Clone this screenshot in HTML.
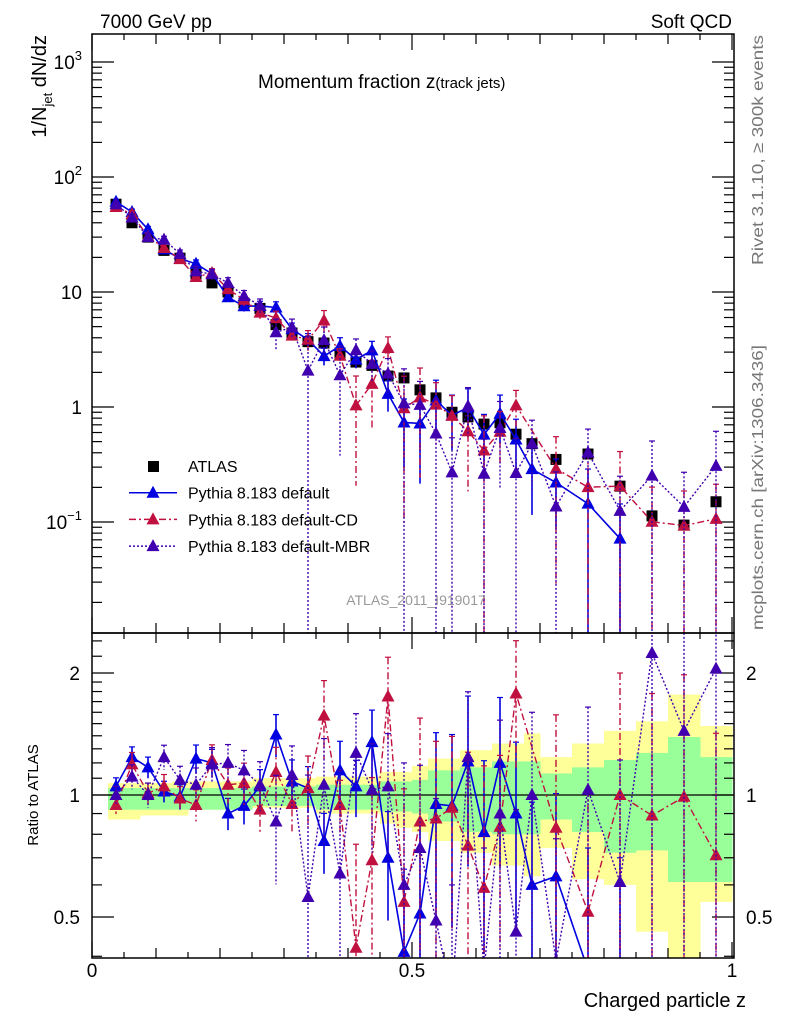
<!DOCTYPE html>
<html><head><meta charset="utf-8"><style>
html,body{margin:0;padding:0;background:#fff;overflow:hidden;width:786px;height:1024px;}
svg{display:block;font-family:"Liberation Sans",sans-serif;}
</style></head><body>
<svg id="chart" width="786" height="1024" viewBox="0 0 786 1024" xmlns="http://www.w3.org/2000/svg" overflow="hidden">
<defs>
<clipPath id="cm"><rect x="92" y="34" width="642" height="599"/></clipPath>
<clipPath id="cr"><rect x="92" y="633" width="642" height="325"/></clipPath>
</defs>
<g id="bands" clip-path="url(#cr)"></g>
<g id="ticks"></g>
<line x1="92" x2="734" y1="795" y2="795" stroke="#000" stroke-width="1.2"/>
<g id="mainmarks" clip-path="url(#cm)"></g>
<g id="ratiomarks" clip-path="url(#cr)"></g>
<rect x="92" y="34" width="642" height="599" fill="none" stroke="#000" stroke-width="1.5"/>
<rect x="92" y="633" width="642" height="325" fill="none" stroke="#000" stroke-width="1.5"/>
<text x="100" y="28" font-size="19">7000 GeV pp</text>
<text x="732" y="28" font-size="19" text-anchor="end">Soft QCD</text>
<text x="258" y="88" font-size="19">Momentum fraction z<tspan font-size="15">(track jets)</tspan></text>
<text transform="translate(46,35) rotate(-90)" font-size="20" text-anchor="end">1/N<tspan font-size="13" dy="6">jet</tspan><tspan dy="-6"> dN/dz</tspan></text>
<text transform="translate(763,265) rotate(-90)" font-size="16" fill="#777" textLength="230" lengthAdjust="spacingAndGlyphs">Rivet 3.1.10, ≥ 300k events</text>
<text transform="translate(763,630) rotate(-90)" font-size="16" fill="#777" textLength="285" lengthAdjust="spacingAndGlyphs">mcplots.cern.ch [arXiv:1306.3436]</text>
<text x="416" y="605" font-size="14" fill="#999" text-anchor="middle">ATLAS_2011_I919017</text>
<text transform="translate(38,795) rotate(-90)" font-size="15" text-anchor="middle">Ratio to ATLAS</text>
<text x="746" y="1007" font-size="20" text-anchor="end">Charged particle z</text>
<g id="legend" font-size="16"></g>
<g id="labels" font-size="19"></g>
</svg>
<script>
const atlas=[58,40,30,23,19.7,14.3,12,10,8,7.2,5.2,4.4,3.7,3.6,2.95,2.46,2.3,1.86,1.79,1.41,1.2,0.9,0.82,0.71,0.73,0.58,0.48,0.35,0.39,0.205,0.113,0.094,0.15];
const blueRatio=[1.05,1.24,1.17,1.02,0.99,1.23,1.20,0.90,0.94,1.05,1.41,1.08,1.04,0.77,1.15,1.05,1.35,0.70,0.41,0.51,0.95,0.94,1.21,0.81,1.20,0.90,0.60,0.63,0.37,0.35,null,null,null];
const redRatio=[0.945,1.19,1.01,1.05,0.98,0.945,1.22,1.06,1.07,0.92,1.14,0.95,1.04,1.57,0.945,0.42,0.69,1.75,0.545,0.86,0.875,0.93,0.75,0.59,0.835,1.78,null,0.83,0.515,1.0,0.89,0.99,0.71];
const purpleRatio=[1.0,1.11,1.0,1.24,1.09,1.06,1.19,1.20,1.15,1.06,0.86,1.12,0.56,1.06,0.64,1.27,1.03,1.05,0.60,0.74,0.49,0.3,1.24,0.37,0.9,0.46,1.0,0.39,1.03,0.61,2.24,1.44,2.05];
const blueErr=[0.05,0.06,0.06,0.06,0.07,0.08,0.08,0.09,0.1,0.1,0.12,0.13,0.13,0.17,0.18,0.16,0.2,0.3,0.6,0.7,0.5,0.5,0.45,0.5,0.45,0.5,0.6,0.6,1,1,0,0,0];
const redErr=[0.05,0.07,0.06,0.07,0.07,0.09,0.09,0.1,0.12,0.12,0.15,0.15,0.2,0.22,0.15,0.8,0.6,0.25,0.9,0.8,0.55,0.5,0.7,1,0.5,0.35,0,0.9,1,1,1,1,1];
const purpleErr=[0.05,0.07,0.07,0.07,0.08,0.1,0.1,0.11,0.12,0.14,0.3,0.18,1,0.3,0.8,0.25,0.3,0.35,1,0.6,1,1,0.45,1,0.7,1,0.6,1,0.6,1,1,1,1];
const yUp=[1.07,1.07,1.07,1.07,1.08,1.08,1.08,1.08,1.08,1.10,1.10,1.10,1.10,1.11,1.11,1.11,1.11,1.14,1.14,1.18,1.23,1.23,1.29,1.29,1.34,1.34,1.42,1.24,1.34,1.44,1.52,1.77,1.48];
const yDn=[0.87,0.87,0.89,0.89,0.89,0.92,0.92,0.92,0.92,0.93,0.93,0.93,0.93,0.90,0.90,0.90,0.90,0.85,0.83,0.81,0.77,0.77,0.72,0.72,0.67,0.67,0.63,0.74,0.62,0.60,0.46,0.38,0.545];
const gUp=[1.04,1.04,1.04,1.04,1.04,1.04,1.04,1.04,1.04,1.05,1.05,1.05,1.05,1.06,1.06,1.06,1.06,1.08,1.08,1.09,1.15,1.15,1.17,1.17,1.21,1.21,1.21,1.13,1.17,1.22,1.27,1.39,1.24];
const gDn=[0.92,0.92,0.92,0.92,0.92,0.92,0.92,0.92,0.92,0.94,0.94,0.94,0.94,0.92,0.92,0.92,0.92,0.91,0.91,0.90,0.86,0.86,0.81,0.81,0.80,0.80,0.80,0.87,0.81,0.72,0.73,0.61,0.61];
const xTickLabels=["0","0.5","1"];
const yTickExp=[3,2,1,0,-1];
const ratioTickLabels=["2","1","0.5"];

const NS="http://www.w3.org/2000/svg";
function el(tag,attrs,parent,text){const e=document.createElementNS(NS,tag);for(const k in attrs)e.setAttribute(k,attrs[k]);if(text!==undefined)e.textContent=text;parent.appendChild(e);return e;}
const X=z=>92+640*z;
const Y=v=>407-115*Math.log10(v);
const R=r=>795-122*Math.log2(r);
function edges(k){if(k<27)return[0.025+0.025*k,0.05+0.025*k];const lo=0.7+0.05*(k-27);return[lo,lo+0.05];}
function center(k){const e=edges(k);return(e[0]+e[1])/2;}
const N=atlas.length;

const bg=document.getElementById('bands');
for(let k=0;k<N;k++){const e=edges(k);
 const a=el('rect',{x:X(e[0]),width:X(e[1])-X(e[0])+0.5,y:R(yUp[k]),height:Math.min(R(yDn[k]),960)-R(yUp[k]),fill:'#ffff99'},bg);
 
 }
for(let k=0;k<N;k++){const e=edges(k);
 const a=el('rect',{x:X(e[0]),width:X(e[1])-X(e[0])+0.5,y:R(gUp[k]),height:Math.min(R(gDn[k]),960)-R(gUp[k]),fill:'#99ff99'},bg);
 
 }

const tg=document.getElementById('ticks');
function tk(x1,y1,x2,y2){el('line',{x1,y1,x2,y2,stroke:'#000','stroke-width':1.2},tg);}
for(let i=0;i<=20;i++){const z=i*0.05,x=X(z);const L=(i%10===0)?16:(i%2===0?10:6);
 tk(x,633,x,633-L);tk(x,34,x,34+L);tk(x,958,x,958-L);tk(x,633,x,633+L);}
for(let d=-2;d<=3;d++){for(let m=1;m<=9;m++){const v=m*Math.pow(10,d);const y=Y(v);if(y<34||y>633)continue;const L=m===1?22:10;tk(92,y,92+L,y);tk(734,y,734-L,y);}}
const rt=[0.4,0.5,0.6,0.7,0.8,0.9,1,1.1,1.2,1.3,1.4,1.5,1.6,1.7,1.8,1.9,2,2.2,2.4];
rt.forEach(r=>{const y=R(r);if(y<633||y>958)return;const L=(r===0.5||r===1||r===2)?22:10;tk(92,y,92+L,y);tk(734,y,734-L,y);});

const lg=document.getElementById('labels');
[0,0.5,1].forEach((z,i)=>{el('text',{x:X(z),y:977,'text-anchor':'middle'},lg,xTickLabels[i]);});
yTickExp.forEach(e=>{const y=Y(Math.pow(10,e))+7;
 if(e===1){el('text',{x:82,y,'text-anchor':'end'},lg,'10');}
 else if(e===0){el('text',{x:82,y,'text-anchor':'end'},lg,'1');}
 else{const t=el('text',{x:82,y,'text-anchor':'end'},lg,'10');el('tspan',{dy:-9,'font-size':13},t,e===-1?'−1':String(e));}});
[2,1,0.5].forEach((r,i)=>{const y=R(r)+7;el('text',{x:80,y,'text-anchor':'end'},lg,ratioTickLabels[i]);el('text',{x:746,y},lg,ratioTickLabels[i]);});

const series=[
 {name:'pythia-default',ratio:blueRatio,err:blueErr,color:'#0000e0',dash:'',w:1.6},
 {name:'pythia-default-cd',ratio:redRatio,err:redErr,color:'#c0103f',dash:'7,3,2,3',w:1.4},
 {name:'pythia-default-mbr',ratio:purpleRatio,err:purpleErr,color:'#4000b0',dash:'2,2',w:1.4}];
function tri(g,x,y,c){return el('polygon',{points:`${x},${y-7} ${x-6.5},${y+5} ${x+6.5},${y+5}`,fill:c},g);}
function drawPanel(gid,mapV,isRatio,bottom){
 const g=document.getElementById(gid);
 if(!isRatio){for(let k=0;k<N;k++){const x=X(center(k)),y=mapV(atlas[k]);
  const s=el('rect',{x:x-5.5,y:y-5.5,width:11,height:11,fill:'#000'},g);
  
  }}
 series.forEach(s=>{
  const sg=el('g',{},g);
  
  
  const pts=[];
  for(let k=0;k<N;k++){const r=s.ratio[k];if(r===null)continue;
   const v=isRatio?r:atlas[k]*r;const x=X(center(k)),y=mapV(v);pts.push(x+','+Math.min(y,bottom+40));
   const e=s.err[k];if(e>0){const up=mapV(v*(1+e)),dn=mapV(Math.max(v*(1-e),1e-6));
    el('line',{x1:x,x2:x,y1:up,y2:Math.min(dn,bottom),stroke:s.color,'stroke-width':s.w,'stroke-dasharray':s.dash},sg);
    el('line',{x1:x-3,x2:x+3,y1:up,y2:up,stroke:s.color,'stroke-width':1.2},sg);}}
  el('polyline',{points:pts.join(' '),fill:'none',stroke:s.color,'stroke-width':s.w,'stroke-dasharray':s.dash},sg);
  for(let k=0;k<N;k++){const r=s.ratio[k];if(r===null)continue;const v=isRatio?r:atlas[k]*r;
   const t=tri(sg,X(center(k)),mapV(v),s.color);
   
   }
 });
}
drawPanel('mainmarks',Y,false,633);
drawPanel('ratiomarks',R,true,958);

const leg=document.getElementById('legend');
const le=[['ATLAS','#000',''],['Pythia 8.183 default','#0000e0',''],['Pythia 8.183 default-CD','#c0103f','7,3,2,3'],['Pythia 8.183 default-MBR','#4000b0','2,2']];
le.forEach((l,i)=>{const y=466+i*26.7;const g=el('g',{},leg);
 
 
 if(i===0){el('rect',{x:148,y:y-5,width:11,height:11,fill:'#000'},g);}
 else{el('line',{x1:129,x2:177,y1:y,y2:y,stroke:l[1],'stroke-width':1.5,'stroke-dasharray':l[2]},g);tri(g,153,y,l[1]);}
 el('text',{x:188,y:y+6},g,l[0]);});
</script>
</body></html>
